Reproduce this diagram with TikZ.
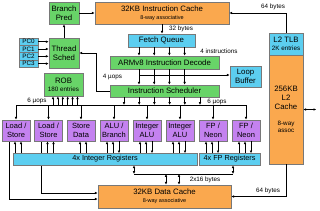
\documentclass[tikz,border=0pt]{standalone}
\usepackage{fontspec}
\setmainfont{Liberation Sans}
\usetikzlibrary{arrows.meta,backgrounds}
\definecolor{grn}{RGB}{104,212,104}
\definecolor{org}{RGB}{250,168,78}
\definecolor{blu}{RGB}{92,206,240}
\definecolor{pur}{RGB}{196,130,240}
\definecolor{bordc}{RGB}{120,120,120}
\begin{document}
\begin{tikzpicture}[x=1pt,y=-1pt,
  box/.style={draw=bordc, line width=0.6pt, inner sep=0pt, align=center, font=\fontsize{7.8}{8.8}\selectfont},
  unit/.style={box, fill=pur, minimum width=28pt, minimum height=21pt, font=\fontsize{7.5}{8.6}\selectfont},
  pcbox/.style={draw=bordc, line width=0.6pt, fill=blu, inner sep=0pt, minimum width=19pt, minimum height=7.3pt, font=\fontsize{6.3}{7}\selectfont},
  lbl/.style={font=\fontsize{6.3}{7}\selectfont, inner sep=0pt},
  ar/.style={line width=0.8pt, -{Latex[length=2.8pt,width=2.6pt]}},
  dar/.style={line width=0.8pt, {Latex[length=2.8pt,width=2.6pt]}-{Latex[length=2.8pt,width=2.6pt]}},
  ln/.style={line width=0.8pt}]
\useasboundingbox (0,0) rectangle (320,210);

% top row
\node[box, fill=grn, minimum width=30pt, minimum height=22pt] (bp) at (64,13) {Branch\\Pred};
\node[box, fill=org, minimum width=134pt, minimum height=22pt] (ic) at (162,13)
  {32KB Instruction Cache\\[-1pt]{\fontsize{5.5}{6}\selectfont 8-way associative}};
\node[box, fill=blu, minimum width=34pt, minimum height=22pt] (tlb) at (286,44)
  {L2 TLB\\[-1pt]{\fontsize{6.3}{7}\selectfont 2K entries}};
\node[box, fill=org, minimum width=34pt, minimum height=109pt] (l2) at (286,109.5)
  {256KB\\L2\\Cache\\[7pt]{\fontsize{6.3}{8}\selectfont 8-way}\\[-1.5pt]{\fontsize{6.3}{8}\selectfont assoc}};

% thread scheduler and PCs
\node[box, fill=grn, minimum width=30pt, minimum height=30pt] (ts) at (64,53) {Thread\\Sched};
\node[pcbox] (pc0) at (28.5,41.7) {PC0};
\node[pcbox] (pc1) at (28.5,49) {PC1};
\node[pcbox] (pc2) at (28.5,56.3) {PC2};
\node[pcbox] (pc3) at (28.5,63.6) {PC3};

% front end
\node[box, fill=blu, minimum width=67pt, minimum height=13pt] (fq) at (161.5,40.5) {Fetch Queue};
\node[box, fill=grn, minimum width=109pt, minimum height=13pt] (dec) at (164.5,62.5) {ARMv8 Instruction Decode};
\node[box, fill=blu, minimum width=31pt, minimum height=21pt] (lb) at (245.5,76.5) {Loop\\Buffer};
\node[box, fill=grn, minimum width=109pt, minimum height=12pt] (sch) at (164.5,91) {Instruction Scheduler};
\node[box, fill=grn, minimum width=39pt, minimum height=23pt] (rob) at (63.5,84.5)
  {ROB\\[-0.5pt]{\fontsize{6.3}{7}\selectfont 180 entries}};

% execution units
\node[unit] (u1) at (16,130.5) {Load /\\Store};
\node[unit] (u2) at (48.5,130.5) {Load /\\Store};
\node[unit] (u3) at (81,130.5) {Store\\Data};
\node[unit] (u4) at (114,130.5) {ALU /\\Branch};
\node[unit] (u5) at (147,130.5) {Integer\\ALU};
\node[unit] (u6) at (180,130.5) {Integer\\ALU};
\node[unit] (u7) at (213,130.5) {FP /\\Neon};
\node[unit] (u8) at (246,130.5) {FP /\\Neon};

% registers and data cache
\node[box, fill=blu, minimum width=184pt, minimum height=12pt, font=\fontsize{7.3}{8}\selectfont] (ireg) at (105,159) {4x Integer Registers};
\node[box, fill=blu, minimum width=61pt, minimum height=12pt, font=\fontsize{7.3}{8}\selectfont] (freg) at (229.5,159) {4x FP Registers};
\node[box, fill=org, minimum width=133pt, minimum height=23pt] (dc) at (164.5,196.5)
  {32KB Data Cache\\[-1pt]{\fontsize{5.5}{6}\selectfont 8-way associative}};

% ---- connectors ----
\draw[ar] (bp) -- (ic);
\draw[ar] (tlb.north) |- (ic.east);
\node[lbl] (l64a) at (273,6.5) {64 bytes};
\draw[ar] (ic.south -| 162,0) -- (fq.north -| 162,0);
\node[lbl] (l32) at (181,29) {32 bytes};
\foreach \p in {pc0,pc1,pc2,pc3} \draw[ar] (\p.east) -- (\p.east -| ts.west);
\draw[ar] (ts) -- (bp);

\foreach \x in {139,154.2,169.4,184.6}{
  \draw[ar] (fq.south -| \x,0) -- (dec.north -| \x,0);
  \draw[ar] (dec.south -| \x,0) -- (sch.north -| \x,0);
}
\node[lbl] (l4i) at (219,51) {4 instructions};
\coordinate (lbs) at (139,75);
\draw[ar] (lbs) -- (lbs -| lb.west);
\draw[ar] (sch.west) -- ++(-13,0) |- (ts.east);
\node[lbl] (l4u) at (112.5,77) {4 µops};

% issue bus
\coordinate (busL) at (16,105);
\coordinate (busR) at (246,105);
\draw[ln] (busL) -- (busR);
\foreach \x in {124,139.2,154.4,169.6,184.8,200}
  \draw[ar] (sch.south -| \x,0) -- (busL -| \x,0);
\foreach \u in {u1,u2,u3,u4,u5,u6,u7,u8}
  \draw[ar] (\u.north |- busL) -- (\u.north);
\foreach \x in {53,57.9,62.8,67.7,72.6,77.5}
  \draw[ar] (rob.south -| \x,0) ++(0,9) -- ++(0,-9);
\node[lbl] (l6a) at (37,101) {6 µops};
\node[lbl] (l6b) at (217,102) {6 µops};

% units <-> registers
\foreach \u in {u1,u2,u3}{
  \draw[ar] ([xshift=-1pt]\u.south) ++(0,12) -- ++(0,-12);
  \draw[ar] ([xshift=5pt]\u.south) ++(0,12) -- ++(0,-12);
}
\foreach \u in {u4,u5,u6,u7,u8}{
  \draw[ar] ([xshift=-7pt]\u.south) ++(0,12) -- ++(0,-12);
  \draw[ar] ([xshift=-1pt]\u.south) ++(0,12) -- ++(0,-12);
  \draw[ar] ([xshift=5pt]\u.south) -- ++(0,12);
}

% load/store to data cache
\begin{scope}[on background layer]
  \draw[ar] ([xshift=-7pt]u2.south) |- ([yshift=3.5pt]dc.west);
  \draw[ar] ([xshift=-7pt]u1.south) |- ([yshift=-2.5pt]dc.west);
\end{scope}

% registers <-> data cache
\coordinate (rbl) at (134,174);
\coordinate (rbr) at (233,174);
\draw[ln] (rbl) -- (rbr);
\draw[dar] (ireg.south -| rbl) -- (rbl);
\draw[dar] (freg.south -| rbr) -- (rbr);
\draw[dar] (rbl -| 166,0) -- (dc.north -| 166,0);
\draw[dar] (rbl -| 179,0) -- (dc.north -| 179,0);
\node[lbl] (l216) at (205,180) {2x16 bytes};

% L2 connections
\draw[ar] (l2.south) |- (dc.east);
\node[lbl] (l64b) at (268,191) {64 bytes};
\draw[dar] (l2.east) -- ++(13,0);
\end{tikzpicture}
\end{document}
